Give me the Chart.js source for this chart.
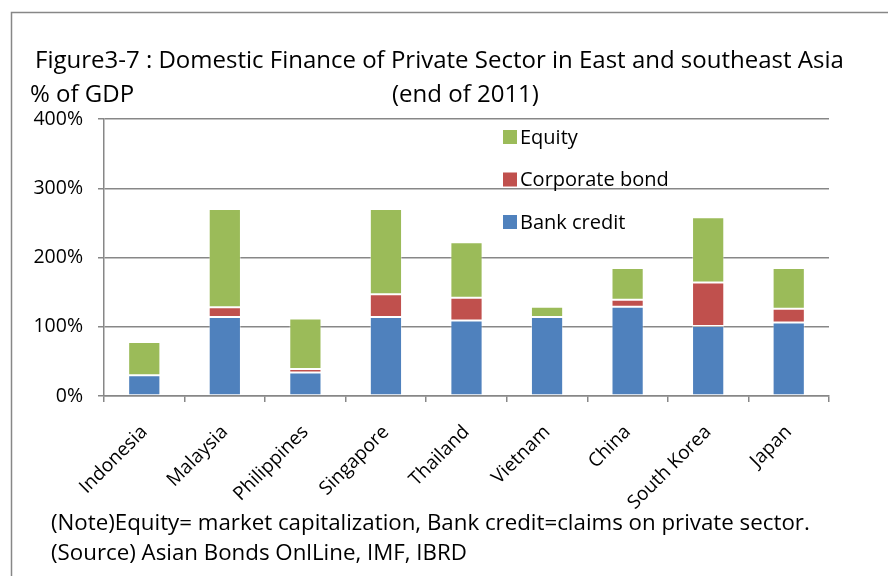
<!DOCTYPE html>
<html>
<head>
<meta charset="utf-8">
<script src="https://cdn.jsdelivr.net/npm/chart.js@4/dist/chart.umd.min.js"></script>
<style>
  html, body { margin: 0; padding: 0; background: #fff; }
  #wrap { width: 888px; height: 576px; position: relative; }
</style>
</head>
<body>
<div id="wrap"><canvas id="myChart" width="888" height="576"></canvas></div>
<script>
const countries = ["Indonesia", "Malaysia", "Philippines", "Singapore", "Thailand", "Vietnam", "China", "South Korea", "Japan"];
const bankCredit = [30, 114, 34, 114, 109, 114, 129, 101, 106];
const corporateBond = [0, 14, 5, 33, 33, 0, 10, 63, 20];
const equity = [48, 142, 73, 123, 80, 15, 46, 94, 59];
const yTicks = [0, 100, 200, 300, 400];

const FONT = "'Open Sans', Lato, sans-serif";
const GREY = "#878787";

// title, notes, legend and outer frame
const decor = {
  id: "decor",
  afterDraw(chart) {
    const c = chart.ctx;
    c.save();
    c.strokeStyle = GREY;
    c.lineWidth = 1.5;
    c.beginPath();
    c.moveTo(11.5, 600);
    c.lineTo(11.5, 12.5);
    c.lineTo(900, 12.5);
    c.stroke();

    c.fillStyle = "#000";
    c.textBaseline = "alphabetic";
    c.textAlign = "left";
    c.font = "24px " + FONT;
    c.fillText("Figure3-7 : Domestic Finance of Private Sector in East and southeast Asia", 35, 68);
    c.fillText("% of GDP", 30, 102);
    c.fillText("(end of 2011)", 392, 102);

    c.font = "22.3px " + FONT;
    c.fillText("(Note)Equity= market capitalization, Bank credit=claims on private sector.", 51, 530);
    c.fillText("(Source) Asian Bonds OnlLine, IMF, IBRD", 51, 560);

    // legend, top item = last dataset
    const items = chart.data.datasets.slice().reverse();
    c.font = "20px " + FONT;
    c.textBaseline = "middle";
    items.forEach((ds, i) => {
      const y = 137 + i * 42.5;
      c.fillStyle = ds.backgroundColor;
      c.fillRect(503, y - 7, 14, 14);
      c.fillStyle = "#000";
      c.fillText(ds.label, 520, y + 1);
    });
    c.restore();
  }
};

const ctx = document.getElementById("myChart").getContext("2d");

new Chart(ctx, {
  type: "bar",
  data: {
    labels: countries,
    datasets: [
      { label: "Bank credit", data: bankCredit, backgroundColor: "#4F81BD" },
      { label: "Corporate bond", data: corporateBond, backgroundColor: "#C0504D" },
      { label: "Equity", data: equity, backgroundColor: "#9BBB59" }
    ].map(d => Object.assign(d, {
      borderColor: "rgba(255,255,255,0.4)",
      borderWidth: 1,
      borderSkipped: false,
      barPercentage: 0.4,
      categoryPercentage: 1
    }))
  },
  options: {
    responsive: false,
    animation: false,
    devicePixelRatio: 1,
    layout: { padding: { top: 119, right: 59, left: 0, bottom: 0 } },
    plugins: {
      legend: { display: false },
      tooltip: { enabled: false }
    },
    scales: {
      x: {
        stacked: true,
        afterFit: s => { s.height = 180; },
        grid: { drawOnChartArea: false, drawTicks: true, tickLength: 6, color: GREY, lineWidth: 1.5 },
        border: { color: GREY, width: 1.5 },
        ticks: {
          color: "#000",
          font: { family: FONT, size: 19 },
          minRotation: 45,
          maxRotation: 45,
          padding: 19,
          autoSkip: false
        }
      },
      y: {
        stacked: true,
        min: 0,
        max: 400,
        afterFit: s => { s.width = 104; },
        afterBuildTicks: s => { s.ticks = yTicks.map(v => ({ value: v })); },
        grid: { color: GREY, lineWidth: 1.5, tickLength: 6 },
        border: { color: GREY, width: 1.5 },
        ticks: {
          color: "#000",
          font: { family: FONT, size: 19.5 },
          padding: 15,
          callback: v => v + "%"
        }
      }
    }
  },
  plugins: [decor]
});
</script>
</body>
</html>
